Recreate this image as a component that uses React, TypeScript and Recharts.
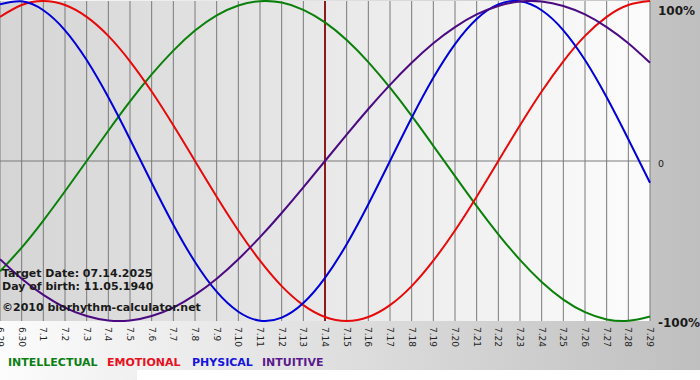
import React from "react";
import { LineChart, Line, XAxis, YAxis, CartesianGrid, ReferenceLine } from "recharts";

const days = ["6.29","6.30","7.1","7.2","7.3","7.4","7.5","7.6","7.7","7.8","7.9","7.10","7.11","7.12","7.13","7.14","7.15","7.16","7.17","7.18","7.19","7.20","7.21","7.22","7.23","7.24","7.25","7.26","7.27","7.28","7.29"];

const physical = [0.979,0.998,0.942,0.817,0.631,0.398,0.136,-0.136,-0.398,-0.631,-0.817,-0.942,-0.998,-0.979,-0.888,-0.731,-0.52,-0.27,0,0.27,0.52,0.731,0.888,0.979,0.998,0.942,0.817,0.631,0.398,0.136,-0.136];
const emotional = [0.901,0.975,1,0.975,0.901,0.782,0.623,0.434,0.223,0,-0.223,-0.434,-0.623,-0.782,-0.901,-0.975,-1,-0.975,-0.901,-0.782,-0.623,-0.434,-0.223,0,0.223,0.434,0.623,0.782,0.901,0.975,1];
const intellectual = [-0.69,-0.541,-0.372,-0.189,0,0.189,0.372,0.541,0.69,0.815,0.91,0.972,0.999,0.99,0.945,0.866,0.756,0.618,0.458,0.282,0.095,-0.095,-0.282,-0.458,-0.618,-0.756,-0.866,-0.945,-0.99,-0.999,-0.972];
const intuitive = [-0.614,-0.736,-0.837,-0.916,-0.969,-0.997,-0.997,-0.969,-0.916,-0.837,-0.736,-0.614,-0.476,-0.325,-0.165,0,0.165,0.325,0.476,0.614,0.736,0.837,0.916,0.969,0.997,0.997,0.969,0.916,0.837,0.736,0.614];

const yTicks = [-1, 0, 1];
const yLabels: Record<string, string> = { "-1": "-100%", "0": "0", "1": "100%" };
const targetDay = "7.14";
const infoLines = ["Target Date: 07.14.2025", "Day of birth: 11.05.1940", "©2010 biorhythm-calculator.net"];
const legendItems = [
  { name: "INTELLECTUAL", color: "#0b7f14" },
  { name: "EMOTIONAL", color: "#e8101e" },
  { name: "PHYSICAL", color: "#1414dc" },
  { name: "INTUITIVE", color: "#5a1a8c" },
];

const rows = days.map((d, i) => ({
  day: d,
  intellectual: intellectual[i],
  emotional: emotional[i],
  physical: physical[i],
  intuitive: intuitive[i],
}));

const FONT = "'DejaVu Sans', Verdana, sans-serif";

const DayTick = (props: any) => {
  const { x, y, payload } = props;
  return (
    <text
      transform={`translate(${x},${y}) rotate(90)`}
      textAnchor="start"
      dominantBaseline="central"
      fontFamily={FONT}
      fontSize={9}
      fill="#222"
    >
      {payload.value}
    </text>
  );
};

const PctTick = (props: any) => {
  const { x, y, payload } = props;
  const v = payload.value;
  const label = yLabels[String(v)];
  const isZero = v === 0;
  return (
    <text
      x={x}
      y={Math.max(y + 2, 7)}
      textAnchor="start"
      dominantBaseline="central"
      fontFamily={FONT}
      fontSize={isZero ? 9.5 : 12}
      fontWeight={isZero ? "normal" : "bold"}
      fill="#1a1a1a"
    >
      {label}
    </text>
  );
};

const legendX = [8, 107, 192, 262];
const infoY = [277, 290, 311];

export default function App() {
  return (
    <div
      style={{
        position: "absolute",
        left: 0,
        top: 0,
        width: 700,
        height: 380,
        background: "linear-gradient(to right, #fcfcfc, #bfbfbf)",
        overflow: "hidden",
      }}
    >
      <div style={{ position: "absolute", left: 137, top: 370, width: 563, height: 10, background: "#ffffff" }} />
      <div style={{ position: "absolute", left: 0, top: 0 }}>
        <LineChart width={700} height={380} data={rows} margin={{ top: 1, right: 0, bottom: 0, left: 0 }}>
          <defs>
            <linearGradient id="plotBg" x1="0" y1="0" x2="1" y2="0">
              <stop offset="0%" stopColor="#d5d5d5" />
              <stop offset="100%" stopColor="#fcfcfc" />
            </linearGradient>
          </defs>
          <CartesianGrid vertical={true} horizontal={false} stroke="#7a7a7a" fill="url(#plotBg)" />
          <XAxis
            dataKey="day"
            interval={0}
            height={59}
            axisLine={false}
            tickLine={false}
            tickSize={0}
            tickMargin={6}
            tick={<DayTick />}
          />
          <YAxis
            orientation="right"
            domain={[-1, 1]}
            ticks={yTicks}
            width={50}
            axisLine={false}
            tickLine={false}
            tickSize={0}
            tickMargin={8}
            tick={<PctTick />}
          />
          <ReferenceLine y={0} stroke="#7a7a7a" strokeWidth={1} />
          <ReferenceLine x={targetDay} stroke="#8b1c1c" strokeWidth={2} />
          <Line type="natural" dataKey="intellectual" stroke="#0a800a" strokeWidth={2} dot={false} activeDot={false} isAnimationActive={false} />
          <Line type="natural" dataKey="emotional" stroke="#e60a0a" strokeWidth={2} dot={false} activeDot={false} isAnimationActive={false} />
          <Line type="natural" dataKey="physical" stroke="#0000d8" strokeWidth={2} dot={false} activeDot={false} isAnimationActive={false} />
          <Line type="natural" dataKey="intuitive" stroke="#4b0a82" strokeWidth={2} dot={false} activeDot={false} isAnimationActive={false} />
        </LineChart>
      </div>
      <svg width={700} height={380} style={{ position: "absolute", left: 0, top: 0, pointerEvents: "none" }}>
        {infoLines.map((t, i) => (
          <text key={t} x={2} y={infoY[i]} fontFamily={FONT} fontSize={11} fontWeight="bold" fill="#1a1a1a">
            {t}
          </text>
        ))}
        {legendItems.map((l, i) => (
          <text key={l.name} x={legendX[i]} y={366} fontFamily={FONT} fontSize={11} fontWeight="bold" fill={l.color}>
            {l.name}
          </text>
        ))}
      </svg>
    </div>
  );
}
